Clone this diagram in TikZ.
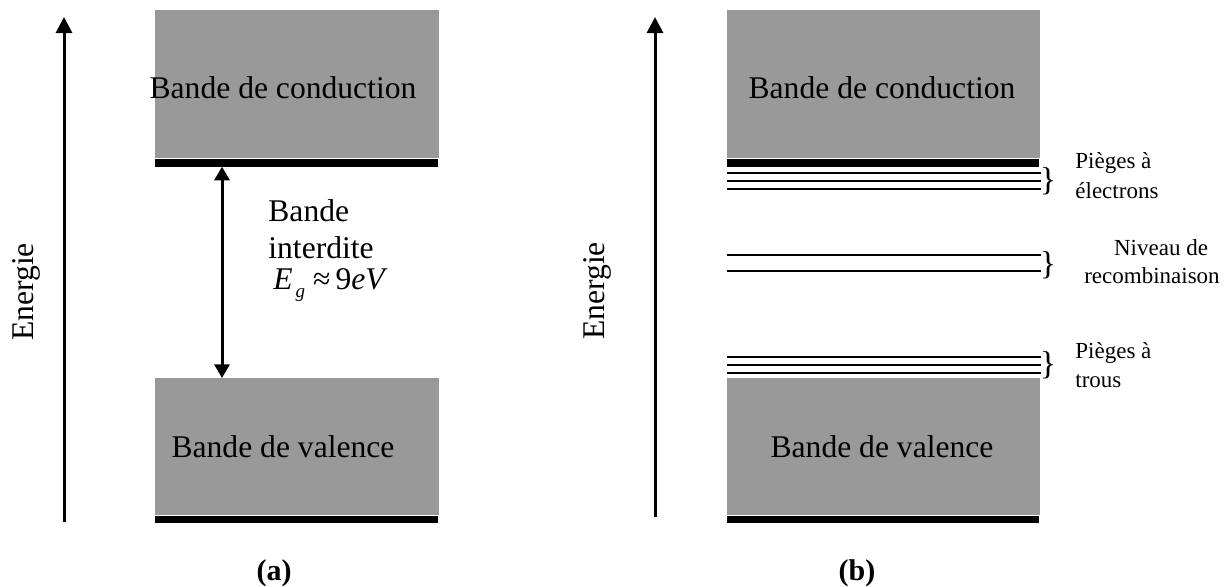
\documentclass[tikz,border=0pt]{standalone}
\usepackage{fontspec}
\setmainfont{Liberation Serif}
\usetikzlibrary{arrows.meta}
\definecolor{bandgray}{RGB}{153,153,153}
\begin{document}
\begin{tikzpicture}[x=0.5pt,y=-0.5pt,
  band/.style={fill=bandgray, draw=none, inner sep=0pt, minimum width=#1},
  bandtext/.style={font=\fontsize{15.8}{19}\selectfont, inner sep=0pt, anchor=base},
  gaptext/.style={font=\fontsize{15.8}{19}\selectfont, inner sep=0pt, anchor=base west},
  note/.style={font=\fontsize{11.5}{14}\selectfont, inner sep=0pt},
  bracetext/.style={font=\fontsize{16.5}{18}\selectfont, inner sep=0pt},
  axislabel/.style={font=\fontsize{15.8}{19}\selectfont, inner sep=0pt, rotate=90},
  caption/.style={font=\fontsize{15}{18}\selectfont\bfseries, inner sep=0pt},
  edgebar/.style={fill=black},
  axis/.style={line width=1.5pt, -{Triangle[width=8pt,length=8pt]}},
  gaparrow/.style={line width=1.5pt, {Triangle[width=7.5pt,length=6.8pt]}-{Triangle[width=7.5pt,length=6.8pt]}},
  level/.style={line width=1.1pt}]
\useasboundingbox (0,0) rectangle (1224,586);
\fill[white] (0,0) rectangle (1224,586);

% ---------------- (a) ----------------
\coordinate (axA0) at (64,522);
\coordinate (axA1) at (64,17);
\draw[axis] (axA0) -- (axA1);
\node[axislabel] (enA) at (26,292) {Energie};

\node[band=142pt, minimum height=73.75pt] (cbA) at (297,83.75) {};
\node[bandtext] (cbAt) at (283,98) {Bande de conduction};
\fill[edgebar] (155,159.3) rectangle (438,166.7);

\node[band=142pt, minimum height=68.5pt] (vbA) at (297,446.5) {};
\node[bandtext] (vbAt) at (283,457) {Bande de valence};
\fill[edgebar] (155,516) rectangle (438,523.3);

\coordinate (gapTop) at (222,166.7);
\coordinate (gapBot) at (222,378);
\draw[gaparrow] (gapTop) -- (gapBot);

\node[gaptext] (gapL1) at (268,221) {Bande};
\node[gaptext] (gapL2) at (268,258) {interdite};
\node[gaptext] (gapL3) at (273,289) {\textit{E}\kern1.5pt\raisebox{-4pt}{\fontsize{9.5}{9.5}\selectfont\textit{g}}\kern4pt≈\kern2.5pt9\textit{eV}};

\node[caption] (capA) at (274,573) {(a)};

% ---------------- (b) ----------------
\coordinate (axB0) at (655,517);
\coordinate (axB1) at (655,17);
\draw[axis] (axB0) -- (axB1);
\node[axislabel] (enB) at (597,291) {Energie};

\node[band=156.5pt, minimum height=73.75pt] (cbB) at (883.5,83.75) {};
\node[bandtext] (cbBt) at (882,98) {Bande de conduction};
\fill[edgebar] (727,159.3) rectangle (1038.5,166.7);

\node[band=156.5pt, minimum height=68.5pt] (vbB) at (883.5,446.5) {};
\node[bandtext] (vbBt) at (882,457) {Bande de valence};
\fill[edgebar] (727,516) rectangle (1038.5,523.3);

% electron traps
\foreach \y in {172.7,180.7,188.7} \draw[level] (727,\y) -- (1041,\y);
\node[bracetext] (brE) at (1048,181) {\}};
\node[note, anchor=base west] (trE1) at (1075,168) {Pièges à};
\node[note, anchor=base west] (trE2) at (1075,198) {électrons};

% recombination level
\foreach \y in {255,271.3} \draw[level] (727,\y) -- (1041,\y);
\node[bracetext] (brR) at (1048,265) {\}};
\node[note, anchor=base] (rc1) at (1161,255) {Niveau de};
\node[note, anchor=base] (rc2) at (1152,283.3) {recombinaison};

% hole traps
\foreach \y in {357,365,373} \draw[level] (727,\y) -- (1041,\y);
\node[bracetext] (brH) at (1048,365.5) {\}};
\node[note, anchor=base west] (trH1) at (1075,358) {Pièges à};
\node[note, anchor=base west] (trH2) at (1075,387) {trous};

\node[caption] (capB) at (857,573) {(b)};
\end{tikzpicture}
\end{document}
